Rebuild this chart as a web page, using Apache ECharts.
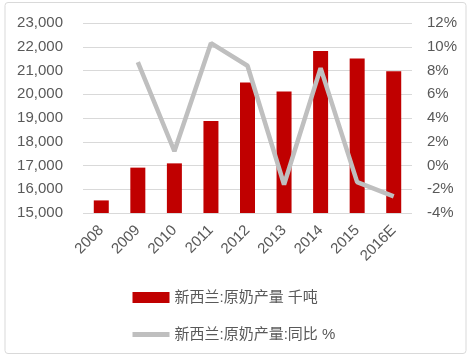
<!DOCTYPE html>
<html><head><meta charset="utf-8">
<script src="https://cdn.jsdelivr.net/npm/echarts@6/dist/echarts.min.js"></script>
<style>html,body{margin:0;padding:0;background:#fff;}#c{width:471px;height:357px;}</style>
</head><body><div id="c"></div>
<script>
var categories = ['2008','2009','2010','2011','2012','2013','2014','2015','2016E'];
var production = [15530, 16910, 17090, 18870, 20490, 20120, 21820, 21510, 20970];
var yoy = [null, 8.7, 1.2, 10.3, 8.4, -1.6, 8.2, -1.4, -2.6];
var barName = '新西兰:原奶产量 千吨';
var lineName = '新西兰:原奶产量:同比 %';
var textColor = '#595959';
var font = '"Liberation Sans", Arial, "Noto Sans CJK SC", sans-serif';
var chart = echarts.init(document.getElementById('c'), null, {renderer: 'canvas'});
chart.setOption({
  animation: false,
  textStyle: {fontFamily: font},
  graphic: [{type: 'rect', shape: {x: 5, y: 2.5, width: 461, height: 351, r: 3}, style: {fill: 'none', stroke: '#D9D9D9', lineWidth: 1}, silent: true}],
  grid: {left: 83, right: 59, top: 23, bottom: 144},
  legend: {
    orient: 'vertical', left: 130, top: 290, padding: 0, itemWidth: 37, itemHeight: 11, itemGap: 22,
    textStyle: {color: textColor, fontSize: 15, fontFamily: font},
    data: [{name: barName, icon: 'rect'}, {name: lineName, itemStyle: {opacity: 0}, lineStyle: {width: 5, color: '#BFBFBF'}}]
  },
  xAxis: {
    type: 'category', data: categories, boundaryGap: true,
    axisLine: {show: false}, axisTick: {show: false},
    axisLabel: {rotate: 45, color: textColor, fontSize: 15, margin: 15, fontFamily: font}
  },
  yAxis: [{
    type: 'value', min: 15000, max: 23000, interval: 1000,
    axisLine: {show: false}, axisTick: {show: false},
    splitLine: {lineStyle: {color: '#D9D9D9', width: 1}},
    axisLabel: {color: textColor, fontSize: 15, margin: 20, fontFamily: font,
      formatter: function (v) { return v.toLocaleString('en-US'); }}
  }, {
    type: 'value', min: -4, max: 12, interval: 2, position: 'right',
    axisLine: {show: false}, axisTick: {show: false}, splitLine: {show: false},
    axisLabel: {color: textColor, fontSize: 15, margin: 15, fontFamily: font, formatter: '{value}%'}
  }],
  series: [{
    name: barName, type: 'bar', data: production, barWidth: 15,
    itemStyle: {color: '#C00000'}
  }, {
    name: lineName, type: 'line', yAxisIndex: 1, data: yoy,
    symbol: 'none', showSymbol: false,
    lineStyle: {color: '#BFBFBF', width: 4.5}, itemStyle: {color: '#BFBFBF'}
  }]
});
</script></body></html>
